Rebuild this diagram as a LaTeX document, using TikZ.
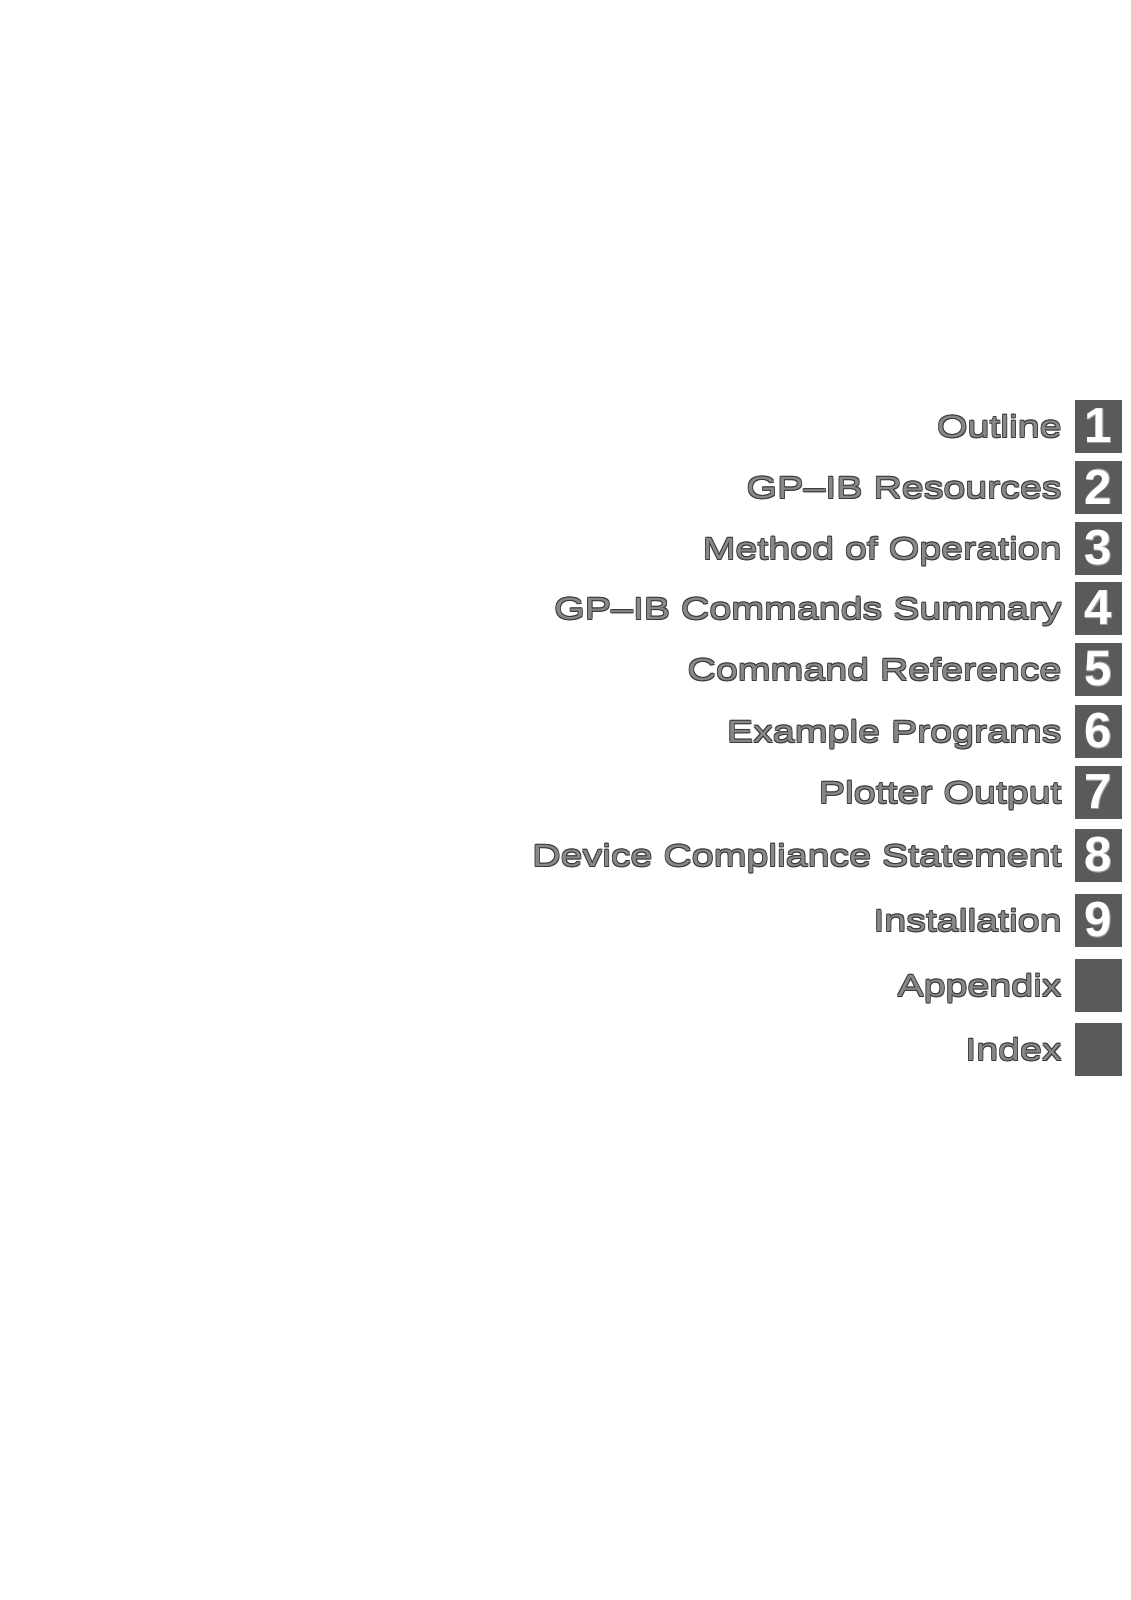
\documentclass[tikz,border=0pt]{standalone}
\usepackage{fontspec}
\setmainfont{Liberation Sans}
\newfontfamily\labelfont[FakeStretch=1.28,Ligatures=TeX]{Liberation Sans}
\definecolor{tabgray}{HTML}{5A5A5A}
\definecolor{inkgray}{HTML}{888888}
\definecolor{inkedge}{HTML}{383838}
\definecolor{numedge}{HTML}{9A9A9A}

\newcommand\engraved[3]{%
  \makebox[0pt][l]{\hspace*{0.45pt}\raisebox{-0.45pt}{\color{#2}#3}}%
  \makebox[0pt][l]{\hspace*{-0.4pt}\raisebox{0.4pt}{\color{#2}#3}}%
  \makebox[0pt][l]{\hspace*{0.4pt}\raisebox{0.4pt}{\color{#2}#3}}%
  \makebox[0pt][l]{\hspace*{-0.4pt}\raisebox{-0.4pt}{\color{#2}#3}}%
  {\color{#1}#3}}

\tikzset{
  tabbox/.style={fill=tabgray, minimum width=0.94cm, minimum height=1.06cm,
    inner sep=0pt, font=\bfseries\fontsize{28}{30}\selectfont},
  tablabel/.style={anchor=base east, inner sep=0pt,
    font=\labelfont\fontsize{17.5}{20}\selectfont},
}

\begin{document}
\begin{tikzpicture}[x=0.02cm,y=-0.02cm]
    \useasboundingbox (0,0) rectangle (1131,1600);
    \foreach \y/\n/\txt [count=\i] in {426/1/Outline, 487/2/GP\textendash IB Resources,
        548/3/Method of Operation, 608/4/GP\textendash IB Commands Summary,
        669/5/Command Reference, 731/6/Example Programs, 792/7/Plotter Output,
        855/8/Device Compliance Statement, 920/9/Installation,
        985/{}/Appendix, 1049/{}/Index} {
      \node [tabbox] (tab\i) at (1098.5,\y) {\engraved{white}{numedge}{\n}};
      \node [tablabel] (label\i) at (1062,\y+11.5) {\engraved{inkgray}{inkedge}{\txt}};
    }
  \end{tikzpicture}
\end{document}
